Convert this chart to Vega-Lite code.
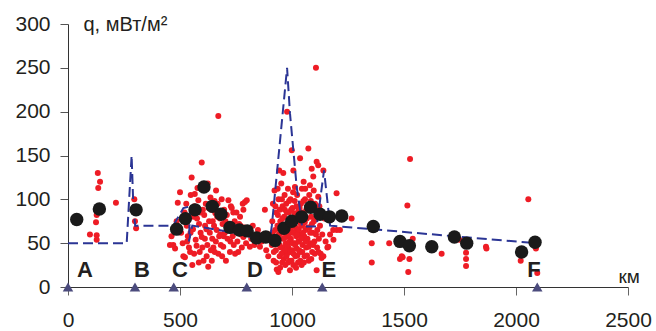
{
  "$schema": "https://vega.github.io/schema/vega-lite/v6.json",
  "width": 560,
  "height": 263,
  "autosize": "none",
  "padding": {"left": 68, "top": 24, "right": 28, "bottom": 44},
  "background": "white",
  "config": {"view": {"stroke": null}, "font": "Liberation Sans"},
  "datasets": {
    "red": [
      {"x":98,"y":60},{"x":125,"y":74},{"x":128,"y":82},{"x":128,"y":59},{"x":128,"y":54},{"x":133,"y":130},{"x":135,"y":113},{"x":143,"y":120},{"x":214,"y":96},{"x":296,"y":100},{"x":299,"y":75},{"x":304,"y":67},
      {"x":455,"y":48},{"x":462,"y":58},{"x":470,"y":48},{"x":478,"y":44},{"x":485,"y":75},{"x":490,"y":96},{"x":500,"y":108},{"x":505,"y":62},{"x":512,"y":50},{"x":515,"y":35},{"x":520,"y":85},{"x":522,"y":34},{"x":528,"y":95},{"x":530,"y":70},{"x":535,"y":58},{"x":540,"y":45},{"x":545,"y":40},{"x":548,"y":105},{"x":552,"y":125},{"x":555,"y":25},{"x":558,"y":66},{"x":560,"y":80},{"x":565,"y":92},{"x":570,"y":54},{"x":574,"y":47},{"x":578,"y":113},{"x":582,"y":99},{"x":585,"y":72},{"x":588,"y":40},{"x":592,"y":62},{"x":597,"y":57},{"x":597,"y":142},{"x":602,"y":88},{"x":605,"y":30},{"x":608,"y":82},{"x":612,"y":70},{"x":615,"y":95},{"x":619,"y":35},{"x":622,"y":48},{"x":626,"y":23},{"x":630,"y":75},{"x":633,"y":62},{"x":636,"y":102},{"x":640,"y":88},{"x":644,"y":55},{"x":649,"y":45},{"x":652,"y":70},{"x":655,"y":40},{"x":658,"y":84},{"x":661,"y":110},{"x":664,"y":65},{"x":668,"y":95},{"x":671,"y":195},{"x":671,"y":38},{"x":675,"y":58},{"x":678,"y":78},{"x":682,"y":48},{"x":686,"y":100},{"x":690,"y":72},{"x":693,"y":46},{"x":697,"y":88},{"x":700,"y":62},{"x":705,"y":30},{"x":709,"y":82},{"x":712,"y":55},{"x":716,"y":99},{"x":720,"y":70},{"x":723,"y":40},{"x":727,"y":92},{"x":731,"y":90},{"x":735,"y":58},{"x":740,"y":48},{"x":744,"y":75},{"x":748,"y":66},{"x":752,"y":85},{"x":756,"y":52},{"x":760,"y":40},{"x":764,"y":72},{"x":768,"y":80},{"x":772,"y":60},{"x":776,"y":45},{"x":780,"y":95},{"x":783,"y":88},{"x":783,"y":57},{"x":787,"y":68},{"x":790,"y":97},{"x":795,"y":50},{"x":798,"y":99},{"x":805,"y":62},{"x":812,"y":46},{"x":818,"y":55},{"x":825,"y":70},{"x":832,"y":48},{"x":840,"y":58},{"x":848,"y":65},{"x":857,"y":46},{"x":865,"y":52},{"x":872,"y":60},{"x":879,"y":88},{"x":885,"y":42},{"x":894,"y":35},{"x":898,"y":55},
      {"x":532,"y":52},{"x":547,"y":62},{"x":563,"y":38},{"x":576,"y":78},{"x":590,"y":85},{"x":600,"y":45},{"x":611,"y":55},{"x":618,"y":66},{"x":628,"y":90},{"x":638,"y":42},{"x":646,"y":75},{"x":660,"y":52},{"x":666,"y":80},{"x":680,"y":60},{"x":688,"y":35},{"x":695,"y":58},{"x":703,"y":75},{"x":714,"y":65},{"x":725,"y":52},{"x":738,"y":85},{"x":746,"y":38},{"x":758,"y":62},{"x":770,"y":70},{"x":584,"y":28},{"x":642,"y":30},{"x":624,"y":118},{"x":654,"y":98},{"x":566,"y":106},
      {"x":905,"y":60},{"x":910,"y":48},{"x":912,"y":75},{"x":915,"y":95},{"x":918,"y":30},{"x":920,"y":55},{"x":922,"y":110},{"x":925,"y":65},{"x":928,"y":42},{"x":930,"y":85},{"x":932,"y":20},{"x":935,"y":70},{"x":938,"y":50},{"x":939,"y":17},{"x":940,"y":100},{"x":942,"y":60},{"x":943,"y":133},{"x":945,"y":35},{"x":946,"y":88},{"x":948,"y":75},{"x":950,"y":45},{"x":952,"y":118},{"x":954,"y":62},{"x":956,"y":28},{"x":958,"y":92},{"x":960,"y":55},{"x":961,"y":130},{"x":963,"y":40},{"x":965,"y":80},{"x":967,"y":105},{"x":969,"y":65},{"x":970,"y":25},{"x":972,"y":50},{"x":974,"y":95},{"x":976,"y":72},{"x":978,"y":200},{"x":978,"y":38},{"x":980,"y":58},{"x":982,"y":112},{"x":984,"y":45},{"x":986,"y":85},{"x":988,"y":68},{"x":990,"y":30},{"x":991,"y":19},{"x":993,"y":100},{"x":995,"y":55},{"x":997,"y":78},{"x":999,"y":156},{"x":1000,"y":42},{"x":1002,"y":90},{"x":1004,"y":62},{"x":1006,"y":133},{"x":1006,"y":25},{"x":1008,"y":72},{"x":1010,"y":50},{"x":1012,"y":98},{"x":1013,"y":114},{"x":1015,"y":35},{"x":1017,"y":82},{"x":1019,"y":58},{"x":1021,"y":44},{"x":1023,"y":105},{"x":1025,"y":66},{"x":1027,"y":28},{"x":1029,"y":88},{"x":1031,"y":52},{"x":1033,"y":75},{"x":1035,"y":40},{"x":1036,"y":147},{"x":1038,"y":60},{"x":1040,"y":95},{"x":1043,"y":25},{"x":1045,"y":70},{"x":1047,"y":48},{"x":1050,"y":85},{"x":1052,"y":120},{"x":1054,"y":58},{"x":1056,"y":35},{"x":1058,"y":100},{"x":1060,"y":65},{"x":1063,"y":45},{"x":1066,"y":78},{"x":1069,"y":55},{"x":1072,"y":90},{"x":1073,"y":158},{"x":1075,"y":30},{"x":1078,"y":68},{"x":1080,"y":116},{"x":1082,"y":50},{"x":1085,"y":80},{"x":1088,"y":135},{"x":1090,"y":40},{"x":1092,"y":62},{"x":1095,"y":126},{"x":1098,"y":75},{"x":1100,"y":52},{"x":1103,"y":95},{"x":1107,"y":250},{"x":1107,"y":60},{"x":1110,"y":143},{"x":1110,"y":19},{"x":1112,"y":45},{"x":1115,"y":85},{"x":1117,"y":103},{"x":1117,"y":139},{"x":1120,"y":55},{"x":1125,"y":70},{"x":1128,"y":38},{"x":1132,"y":33},{"x":1135,"y":60},{"x":1140,"y":133},{"x":1140,"y":35},{"x":1145,"y":78},{"x":1150,"y":52},{"x":1158,"y":45},{"x":1162,"y":46},{"x":1170,"y":60},{"x":1184,"y":65},{"x":1185,"y":54},{"x":1199,"y":107},{"x":1200,"y":65},{"x":1214,"y":65},{"x":1266,"y":78},
      {"x":934,"y":58},{"x":937,"y":82},{"x":944,"y":48},{"x":947,"y":22},{"x":951,"y":68},{"x":953,"y":38},{"x":957,"y":78},{"x":959,"y":45},{"x":962,"y":65},{"x":964,"y":32},{"x":966,"y":56},{"x":968,"y":88},{"x":971,"y":42},{"x":973,"y":62},{"x":975,"y":35},{"x":977,"y":85},{"x":979,"y":48},{"x":981,"y":70},{"x":983,"y":28},{"x":985,"y":60},{"x":987,"y":98},{"x":989,"y":52},{"x":992,"y":40},{"x":994,"y":66},{"x":996,"y":88},{"x":998,"y":30},{"x":1001,"y":74},{"x":1003,"y":50},{"x":1005,"y":108},{"x":1007,"y":38},{"x":1009,"y":62},{"x":1011,"y":84},{"x":1014,"y":48},{"x":1016,"y":68},{"x":1018,"y":22},{"x":1020,"y":92},{"x":1022,"y":60},{"x":1024,"y":36},{"x":1026,"y":78},{"x":1028,"y":52},{"x":1030,"y":66},{"x":1032,"y":42},{"x":1034,"y":90},{"x":1037,"y":30},{"x":1039,"y":72},{"x":1041,"y":55},{"x":1044,"y":112},{"x":1046,"y":40},{"x":1049,"y":62},{"x":1051,"y":98},{"x":1053,"y":28},{"x":1057,"y":74},{"x":1061,"y":52},{"x":1064,"y":88},{"x":1067,"y":36},{"x":1070,"y":68},{"x":1074,"y":46},{"x":1077,"y":105},{"x":1081,"y":62},{"x":1086,"y":32},{"x":1089,"y":72},{"x":1094,"y":48},{"x":1097,"y":110},{"x":1102,"y":38},{"x":1105,"y":78},{"x":1113,"y":65},{"x":1118,"y":40},{"x":1122,"y":92},{"x":926,"y":92},{"x":919,"y":40},{"x":913,"y":62},{"x":929,"y":28},{"x":936,"y":112},{"x":955,"y":100},{"x":1059,"y":112},{"x":1084,"y":98},
      {"x":1356,"y":50},{"x":1356,"y":28},{"x":1434,"y":50},{"x":1482,"y":32},{"x":1490,"y":35},{"x":1494,"y":34},{"x":1515,"y":93},{"x":1519,"y":17},{"x":1524,"y":32},{"x":1527,"y":146},{"x":1539,"y":55},{"x":1668,"y":38},{"x":1747,"y":54},{"x":1777,"y":39},{"x":1777,"y":32},{"x":1777,"y":24},{"x":1866,"y":46},{"x":1868,"y":44},{"x":2021,"y":30},{"x":2055,"y":100},{"x":2089,"y":44},{"x":2095,"y":16}
    ],
    "black": [
      {"x":39,"y":77},{"x":140,"y":89},{"x":304,"y":88},{"x":485,"y":66},{"x":524,"y":78},{"x":567,"y":88},{"x":607,"y":114},{"x":644,"y":92},{"x":683,"y":83},{"x":723,"y":68},{"x":765,"y":65},{"x":800,"y":64},{"x":842,"y":56},{"x":883,"y":57},{"x":924,"y":53},{"x":964,"y":67},{"x":999,"y":75},{"x":1043,"y":80},{"x":1083,"y":91},{"x":1125,"y":83},{"x":1167,"y":80},{"x":1222,"y":81},{"x":1363,"y":69},{"x":1482,"y":52},{"x":1524,"y":47},{"x":1624,"y":46},{"x":1725,"y":57},{"x":1780,"y":50},{"x":2025,"y":40},{"x":2085,"y":51}
    ],
    "line": [
      {"i":1,"x":0,"y":50},{"i":2,"x":262,"y":50},{"i":3,"x":284,"y":150},{"i":4,"x":292,"y":90},{"i":5,"x":300,"y":70},{"i":6,"x":470,"y":70},{"i":7,"x":515,"y":90},{"i":8,"x":545,"y":92},{"i":9,"x":540,"y":52},{"i":10,"x":555,"y":70},{"i":11,"x":720,"y":63},{"i":12,"x":900,"y":52},{"i":13,"x":910,"y":70},{"i":14,"x":978,"y":250},{"i":15,"x":991,"y":198},{"i":16,"x":1021,"y":114},{"i":17,"x":1036,"y":88},{"i":18,"x":1045,"y":69},{"i":19,"x":1110,"y":69},{"i":20,"x":1143,"y":133},{"i":21,"x":1170,"y":70},{"i":22,"x":2085,"y":50}
    ],
    "marks": [
      {"x":0,"label":"A","lx":76},{"x":299,"label":"B","lx":330},{"x":472,"label":"C","lx":500},{"x":798,"label":"D","lx":835},{"x":1135,"label":"E","lx":1165},{"x":2095,"label":"F","lx":2080}
    ]
  },
  "layer": [
    {
      "data": {"name": "red"},
      "mark": {"type": "point", "filled": true, "shape": "circle", "size": 36, "color": "#ee1c25", "opacity": 1},
      "encoding": {
        "x": {"field": "x", "type": "quantitative", "scale": {"domain": [0, 2500], "nice": false},
          "axis": {"values": [0,500,1000,1500,2000,2500], "format": "d", "grid": false, "domainColor": "#333", "tickColor": "#666", "tickSize": 8, "labelFontSize": 21, "labelPadding": 14, "labelColor": "#231f20", "labelFlush": false,
            "title": "км", "titleFontSize": 19, "titleFontWeight": "normal", "titleColor": "#231f20", "titleX": 550, "titleY": -5, "titleAlign": "left", "titleBaseline": "alphabetic", "titleAnchor": "start"}},
        "y": {"field": "y", "type": "quantitative", "scale": {"domain": [0, 300], "nice": false},
          "axis": {"values": [0,50,100,150,200,250,300], "format": "d", "grid": false, "domainColor": "#333", "tickColor": "#555", "tickSize": 8, "labelFontSize": 21, "labelPadding": 10, "labelColor": "#231f20",
            "title": "q, мВт/м²", "titleFontSize": 20, "titleFontWeight": "normal", "titleColor": "#231f20", "titleAngle": 0, "titleX": 15, "titleY": 6, "titleAlign": "left", "titleBaseline": "alphabetic"}}
      }
    },
    {
      "data": {"name": "line"},
      "mark": {"type": "line", "color": "#2b3595", "strokeWidth": 2, "strokeDash": [10, 5]},
      "encoding": {
        "x": {"field": "x", "type": "quantitative"},
        "y": {"field": "y", "type": "quantitative"},
        "order": {"field": "i", "type": "quantitative"}
      }
    },
    {
      "data": {"name": "black"},
      "mark": {"type": "point", "filled": true, "shape": "circle", "size": 180, "color": "#1a1a1a", "opacity": 1},
      "encoding": {
        "x": {"field": "x", "type": "quantitative"},
        "y": {"field": "y", "type": "quantitative"}
      }
    },
    {
      "data": {"name": "marks"},
      "mark": {"type": "point", "filled": true, "shape": "triangle-up", "size": 110, "color": "#4b4b7d", "opacity": 1},
      "encoding": {
        "x": {"field": "x", "type": "quantitative"},
        "y": {"datum": 0, "type": "quantitative"}
      }
    },
    {
      "data": {"name": "marks"},
      "mark": {"type": "text", "fontSize": 22, "fontWeight": "bold", "color": "#231f20", "baseline": "alphabetic", "align": "center"},
      "encoding": {
        "x": {"field": "lx", "type": "quantitative"},
        "y": {"datum": 11.7, "type": "quantitative"},
        "text": {"field": "label"}
      }
    }
  ]
}
